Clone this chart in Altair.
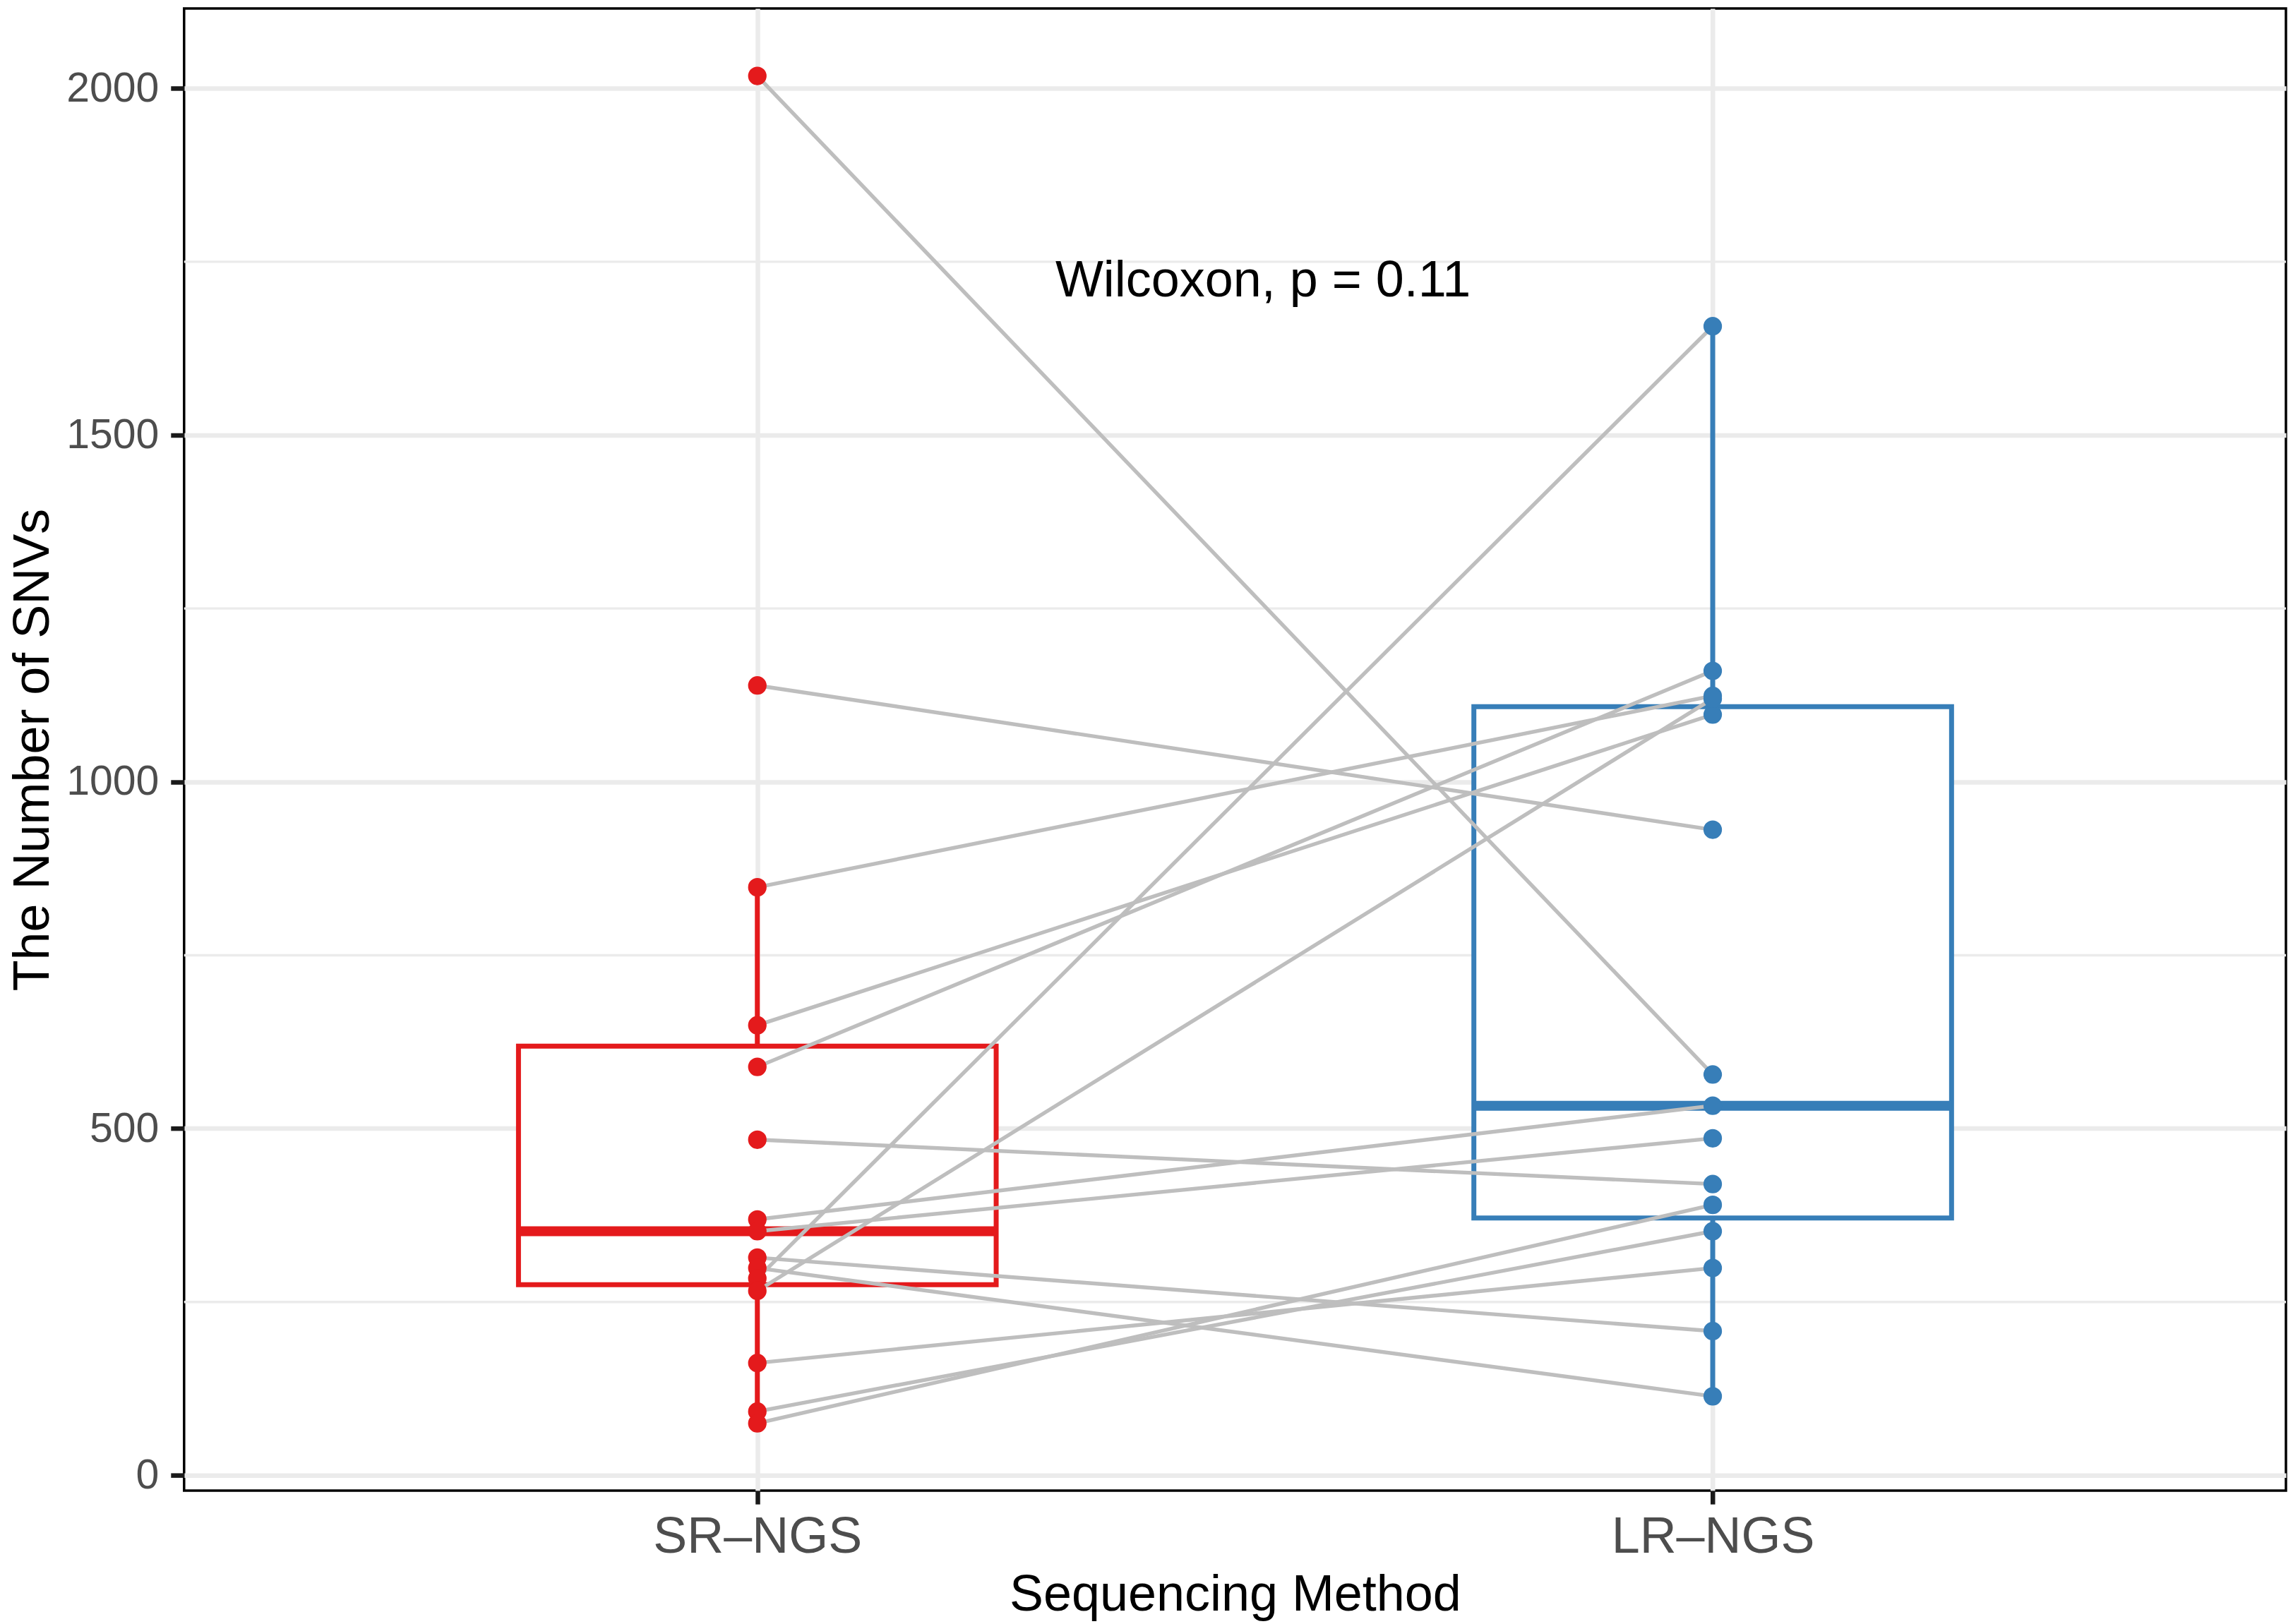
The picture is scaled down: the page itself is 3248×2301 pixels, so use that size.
import altair as alt
import numpy as np
import pandas as pd

# ---------------- data ----------------
categories = ["SR\u2013NGS", "LR\u2013NGS"]
positions = [1, 2]
# paired samples: sr_snvs[i] <-> lr_snvs[i]
sr_snvs = [2018, 1139, 848, 649, 589, 484, 369, 352, 314, 299, 284, 266, 162, 92, 75]
lr_snvs = [578, 931, 1124, 1097, 1160, 420, 533, 486, 208, 114, 1657, 1120, 299, 352, 390]
group_colors = ["#E41A1C", "#377EB8"]
y_major = [0, 500, 1000, 1500, 2000]
y_minor = [250, 750, 1250, 1750]
annotation_text = "Wilcoxon, p = 0.11"
annotation_x = 1.312
annotation_y = 1700

FONT = "Liberation Sans"

# ---------------- tables ----------------
rows = []
for i, (a, b) in enumerate(zip(sr_snvs, lr_snvs)):
    rows.append({"pair": i, "method": categories[0], "pos": positions[0], "snvs": a})
    rows.append({"pair": i, "method": categories[1], "pos": positions[1], "snvs": b})
long_df = pd.DataFrame(rows)

box_rows = []
for cat, pos, vals in zip(categories, positions, [sr_snvs, lr_snvs]):
    v = np.array(vals, dtype=float)
    q1, med, q3 = np.percentile(v, [25, 50, 75])
    iqr = q3 - q1
    lo = v[v >= q1 - 1.5 * iqr].min()
    hi = v[v <= q3 + 1.5 * iqr].max()
    box_rows.append(dict(method=cat, pos=pos, left=pos - 0.25, right=pos + 0.25,
                         q1=q1, med=med, q3=q3, lo=lo, hi=hi))
box_df = pd.DataFrame(box_rows)

all_vals = sr_snvs + lr_snvs
rng = max(all_vals) - min(all_vals)
y_lo = min(all_vals) - 0.05 * rng
y_hi = max(all_vals) + 0.05 * rng

xs = alt.Scale(domain=[0.4, 2.6], nice=False, zero=False)
ys = alt.Scale(domain=[y_lo, y_hi], nice=False, zero=False)
cs = alt.Scale(domain=categories, range=group_colors)

label_expr = "datum.value == 1 ? '%s' : '%s'" % (categories[0], categories[1])

x_axis = alt.Axis(values=positions, labelExpr=label_expr, title="Sequencing Method",
                  grid=True, gridColor="#EBEBEB", gridWidth=6.5,
                  domain=False, ticks=True, tickSize=19, tickWidth=6.5, tickColor="#1a1a1a",
                  labelFont=FONT, labelFontSize=72, labelColor="#4D4D4D", labelPadding=11,
                  labelLimit=0,
                  titleFont=FONT, titleFontSize=72, titleFontWeight="normal",
                  titleColor="black", titlePadding=12)
y_axis = alt.Axis(values=y_major, format="d", title="The Number of SNVs",
                  grid=True, gridColor="#EBEBEB", gridWidth=6.5,
                  domain=False, ticks=True, tickSize=19, tickWidth=6.5, tickColor="#1a1a1a",
                  labelFont=FONT, labelFontSize=59, labelColor="#4D4D4D", labelPadding=17,
                  labelLimit=0,
                  titleFont=FONT, titleFontSize=72, titleFontWeight="normal",
                  titleColor="black", titlePadding=10)

X = lambda f: alt.X(f, scale=xs, axis=x_axis)
Y = lambda f: alt.Y(f, scale=ys, axis=y_axis)

minor = alt.Chart(pd.DataFrame({"y": y_minor})).mark_rule(
    color="#EBEBEB", strokeWidth=3.4
).encode(y=Y("y:Q"))

base_box = alt.Chart(box_df)
whisk_hi = base_box.mark_rule(strokeWidth=7).encode(
    x=X("pos:Q"), y=Y("q3:Q"), y2="hi:Q",
    color=alt.Color("method:N", scale=cs, legend=None))
whisk_lo = base_box.mark_rule(strokeWidth=7).encode(
    x=X("pos:Q"), y=Y("lo:Q"), y2="q1:Q",
    color=alt.Color("method:N", scale=cs, legend=None))
box = base_box.mark_rect(fill="white", strokeWidth=7).encode(
    x=X("left:Q"), x2="right:Q", y=Y("q1:Q"), y2="q3:Q",
    stroke=alt.Stroke("method:N", scale=cs, legend=None))
median = base_box.mark_rule(strokeWidth=14).encode(
    x=X("left:Q"), x2="right:Q", y=Y("med:Q"),
    color=alt.Color("method:N", scale=cs, legend=None))

lines = alt.Chart(long_df).mark_line(color="#BEBEBE", strokeWidth=5.4).encode(
    x=X("pos:Q"), y=Y("snvs:Q"), detail="pair:N")

points = alt.Chart(long_df).mark_circle(size=690, opacity=1).encode(
    x=X("pos:Q"), y=Y("snvs:Q"),
    color=alt.Color("method:N", scale=cs, legend=None))

annot = alt.Chart(pd.DataFrame({"x": [annotation_x], "y": [annotation_y],
                                "t": [annotation_text]})).mark_text(
    font=FONT, fontSize=72, align="left", baseline="alphabetic", color="black"
).encode(x=X("x:Q"), y=Y("y:Q"), text="t:N")

chart = alt.layer(minor, whisk_hi, whisk_lo, box, median, lines, points, annot).properties(
    width=2980, height=2102,
    autosize=alt.AutoSizeParams(type="none"),
    padding={"left": 253, "top": 3, "right": 2, "bottom": 210},
).configure(
    font=FONT,
    view=alt.ViewConfig(stroke="black", strokeWidth=3.5),
)

chart.save("out.html", embed_options={"renderer": "svg", "actions": False})
